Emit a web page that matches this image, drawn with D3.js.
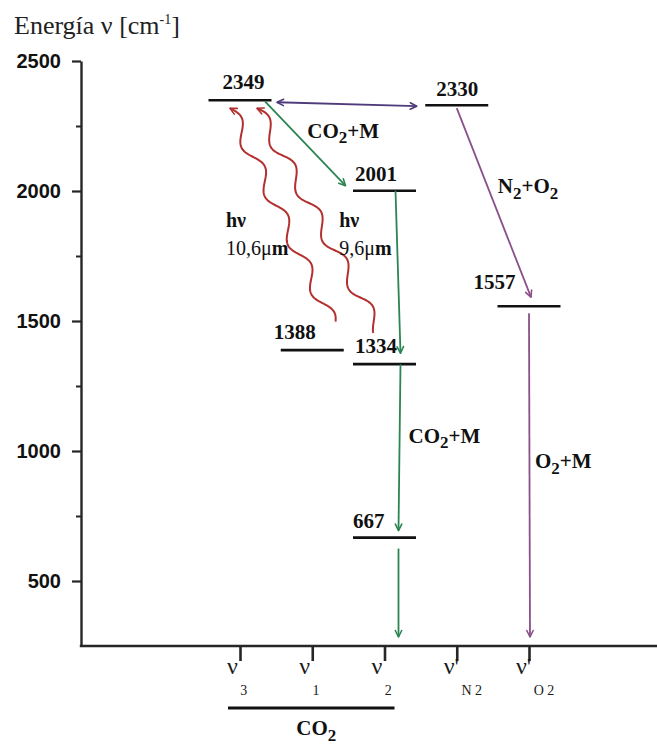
<!DOCTYPE html>
<html>
<head>
<meta charset="utf-8">
<script src="https://cdn.jsdelivr.net/npm/d3@7"></script>
<style>
  html, body { margin: 0; padding: 0; background: #fff; }
  svg { display: block; }
</style>
</head>
<body>
<svg id="chart" width="657" height="744"></svg>
<script>
// ---- Data -------------------------------------------------------------
// Vibrational modes along the horizontal axis
const modes    = ["v3", "v1", "v2", "vN2", "vO2"];
const modeBase = ["ν", "ν", "ν", "ν'", "ν'"];
const modeSub  = ["3", "1", "2", "N 2", "O 2"];

// Vibrational levels (cm-1) and the mode each one belongs to
const levelEnergy = [2349, 2001, 1388, 1334, 667, 2330, 1557];
const levelMode   = ["v3", "v2", "v1", "v2", "v2", "vN2", "vO2"];

// Energy axis
const energyMin  = 250;
const energyMax  = 2500;
const majorTicks = [500, 1000, 1500, 2000, 2500];
const minorTicks = [750, 1250, 1750, 2250];

// Collisional transfers (null target = relaxation to the ground state)
const transferFrom = [2349, 2001, 1334, 667, 2349, 2330, 1557];
const transferTo   = [2001, 1334, 667, null, 2330, 1557, null];
const transferKind = ["co2", "co2", "co2", "co2", "exchange", "air", "air"];

// Laser emission bands
const emissionUpper = [2349, 2349];
const emissionLower = [1388, 1334];
const emissionWave  = ["10,6μ", "9,6μ"];

// ---- Layout ------------------------------------------------------------
const W = 657, H = 744;
const axisX = 81;
const levelHalf = 31.5;
const serif = "'Liberation Serif', 'Times New Roman', Times, serif";
const sans  = "'Liberation Sans', Arial, Helvetica, sans-serif";

const colors = {
  level: "#111",
  axis: "#262626",
  co2: "#2b8552",
  exchange: "#4f3b7c",
  air: "#8a5089",
  emission: "#b2302e"
};

// where each level's value label sits relative to the level's left end
const levelLabelShift = {
  2349: [14, -11], 2001: [2, -10], 1388: [-7, -11], 1334: [2, -11],
  667: [0, -10], 2330: [11, -9], 1557: [-24, -17]
};
// arrow end offsets in pixels: [startDx, startDy, endDx, endDy]
const transferShift = [
  [25, 1, -39, -5],
  [11, 0, 16, -11],
  [16, 0, 14, -7],
  [14, 11, 14, -9],
  [37, 2, -40, 1],
  [0, 3, 2, -9],
  [0, 7, 1, -9]
];
const emissionShift = [
  [20, -27, -10, 8],
  [-6, -34, 17, 8]
];

const svg = d3.select("#chart");

const x = d3.scalePoint().domain(modes).range([240, 529]);
const y = d3.scaleLinear().domain([energyMin, energyMax]).range([646, 61]);

const modeOf = e => levelMode[levelEnergy.indexOf(e)];
const levelX = e => x(modeOf(e));

// ---- helpers -------------------------------------------------------------
function richText(sel, px, py, parts, opts) {
  const t = sel.append("text")
    .attr("x", px).attr("y", py)
    .attr("font-family", opts.family || serif)
    .attr("font-size", opts.size)
    .attr("font-weight", opts.weight || "normal")
    .attr("fill", opts.fill || "#111")
    .attr("text-anchor", opts.anchor || "start");
  let shift = 0;
  parts.forEach(p => {
    const ts = t.append("tspan").text(p.t);
    const target = p.dy || 0;
    if (target !== shift) { ts.attr("dy", target - shift); shift = target; }
    if (p.size) ts.attr("font-size", p.size);
    if (p.weight) ts.attr("font-weight", p.weight);
    if (p.dx) ts.attr("dx", p.dx);
  });
  return t;
}

// chevron arrowheads
const defs = svg.append("defs");
function marker(id, color, reverse) {
  defs.append("marker")
    .attr("id", id)
    .attr("viewBox", "-8 -5 10 10")
    .attr("refX", 0).attr("refY", 0)
    .attr("markerWidth", 10).attr("markerHeight", 10)
    .attr("markerUnits", "userSpaceOnUse")
    .attr("orient", reverse ? "auto-start-reverse" : "auto")
    .append("path")
    .attr("d", "M-6.5,-3.2 L0,0 L-6.5,3.2")
    .attr("fill", "none")
    .attr("stroke", color)
    .attr("stroke-width", 1.6)
    .attr("stroke-linecap", "round")
    .attr("stroke-linejoin", "round");
}
Object.keys(colors).forEach(k => {
  marker("head-" + k, colors[k], false);
  marker("tail-" + k, colors[k], true);
});

// ---- axes -----------------------------------------------------------------
const yAxis = d3.axisLeft(y).tickValues(majorTicks).tickFormat(d3.format("d"))
  .tickSize(9).tickSizeOuter(0).tickPadding(11);
const gy = svg.append("g").attr("transform", `translate(${axisX},0)`).call(yAxis);
gy.select(".domain").attr("stroke", colors.axis).attr("stroke-width", 2.4);
gy.selectAll(".tick line").attr("stroke", colors.axis).attr("stroke-width", 2.2);
gy.selectAll(".tick text")
  .attr("font-family", sans).attr("font-size", 20).attr("font-weight", "bold").attr("fill", "#111");

const gyMinor = svg.append("g").attr("transform", `translate(${axisX},0)`)
  .call(d3.axisLeft(y).tickValues(minorTicks).tickSize(5).tickFormat(""));
gyMinor.select(".domain").remove();
gyMinor.selectAll(".tick line").attr("stroke", colors.axis).attr("stroke-width", 2);

const baseY = y(energyMin);
svg.append("line")
  .attr("x1", axisX - 1.2).attr("x2", W)
  .attr("y1", baseY).attr("y2", baseY)
  .attr("stroke", colors.axis).attr("stroke-width", 2.6);

const gx = svg.append("g").attr("transform", `translate(0,${baseY})`)
  .call(d3.axisBottom(x).tickSize(15).tickSizeOuter(0).tickFormat(""));
gx.select(".domain").remove();
gx.selectAll(".tick line").attr("stroke", colors.axis).attr("stroke-width", 2.6);

// mode labels below the axis
modes.forEach((m, i) => {
  richText(svg, x(m) - 13, baseY + 28, [
    { t: modeBase[i] },
    { t: modeSub[i], dy: 21, size: 14, dx: 2.5 }
  ], { size: 24, fill: "#1a1a1a" });
});

// CO2 bracket under the first three modes
const bracketY = baseY + 62;
svg.append("line")
  .attr("x1", x("v3") - 12).attr("x2", x("v2") + 10)
  .attr("y1", bracketY).attr("y2", bracketY)
  .attr("stroke", "#111").attr("stroke-width", 3);
richText(svg, x("v1") + 4, bracketY + 27, [
  { t: "CO" }, { t: "2", dy: 6, size: 17 }
], { size: 21, weight: "bold", anchor: "middle" });

// axis title
richText(svg, 14, 34, [
  { t: "Energía ν [cm" },
  { t: "-1", dy: -10, size: 14 },
  { t: "]" }
], { size: 26, fill: "#222" });

// ---- energy levels ----------------------------------------------------------
levelEnergy.forEach(e => {
  const cx = levelX(e), cy = y(e);
  svg.append("line")
    .attr("x1", cx - levelHalf).attr("x2", cx + levelHalf)
    .attr("y1", cy).attr("y2", cy)
    .attr("stroke", colors.level).attr("stroke-width", 2.6);
  const s = levelLabelShift[e];
  svg.append("text")
    .attr("x", cx - levelHalf + s[0]).attr("y", cy + s[1])
    .attr("font-family", serif).attr("font-size", 21).attr("font-weight", "bold")
    .attr("fill", "#111")
    .text(e);
});

// ---- collisional transfers ----------------------------------------------
transferFrom.forEach((from, i) => {
  const to = transferTo[i];
  const kind = transferKind[i];
  const s = transferShift[i];
  const x1 = levelX(from) + s[0], y1 = y(from) + s[1];
  const x2 = (to === null ? levelX(from) : levelX(to)) + s[2];
  const y2 = (to === null ? y(energyMin) : y(to)) + s[3];
  const ln = svg.append("line")
    .attr("x1", x1).attr("y1", y1).attr("x2", x2).attr("y2", y2)
    .attr("stroke", colors[kind]).attr("stroke-width", 1.8)
    .attr("marker-end", `url(#head-${kind})`);
  if (kind === "exchange") ln.attr("marker-start", `url(#tail-${kind})`);
});

// ---- laser emissions (wavy arrows) ---------------------------------------
const waveAmp = 6.5, waveLen = 54;
emissionUpper.forEach((up, i) => {
  const lo = emissionLower[i];
  const s = emissionShift[i];
  const p0 = [levelX(lo) + s[0], y(lo) + s[1]];
  const p1 = [levelX(up) + s[2], y(up) + s[3]];
  const dx = p1[0] - p0[0], dy = p1[1] - p0[1];
  const L = Math.hypot(dx, dy);
  const u = [dx / L, dy / L];
  const n = [-u[1], u[0]];
  const pts = d3.range(0, 1.0001, 1 / 240).map(t => {
    const sAlong = t * L;
    const off = waveAmp * Math.sin(2 * Math.PI * (L - sAlong) / waveLen);
    return [p0[0] + u[0] * sAlong + n[0] * off, p0[1] + u[1] * sAlong + n[1] * off];
  });
  svg.append("path")
    .attr("d", d3.line()(pts))
    .attr("fill", "none")
    .attr("stroke", colors.emission).attr("stroke-width", 2)
    .attr("marker-end", "url(#head-emission)");
});

// ---- annotations -----------------------------------------------------------
const ann = svg.append("g");
// photon labels
[[x("v3") - 14, 0], [x("v1") + 27, 1]].forEach(([ax, i]) => {
  richText(ann, ax, y(1862), [{ t: "hν" }], { size: 20, weight: "bold" });
  richText(ann, ax, y(1754), [{ t: emissionWave[i] }, { t: "m", weight: "bold" }], { size: 20 });
});
// collision partners
richText(ann, x("v1") - 5, y(2204), [
  { t: "CO" }, { t: "2", dy: 5, size: 17 }, { t: "+M" }
], { size: 21, weight: "bold" });
richText(ann, x("vN2") + 41, y(1992), [
  { t: "N" }, { t: "2", dy: 6, size: 17 }, { t: "+O" }, { t: "2", dy: 6, size: 17 }
], { size: 21, weight: "bold" });
richText(ann, x("v2") + 24, y(1031), [
  { t: "CO" }, { t: "2", dy: 5, size: 17 }, { t: "+M" }
], { size: 21, weight: "bold" });
richText(ann, x("vO2") + 6, y(935), [
  { t: "O" }, { t: "2", dy: 6, size: 17 }, { t: "+M" }
], { size: 21, weight: "bold" });
</script>
</body>
</html>
